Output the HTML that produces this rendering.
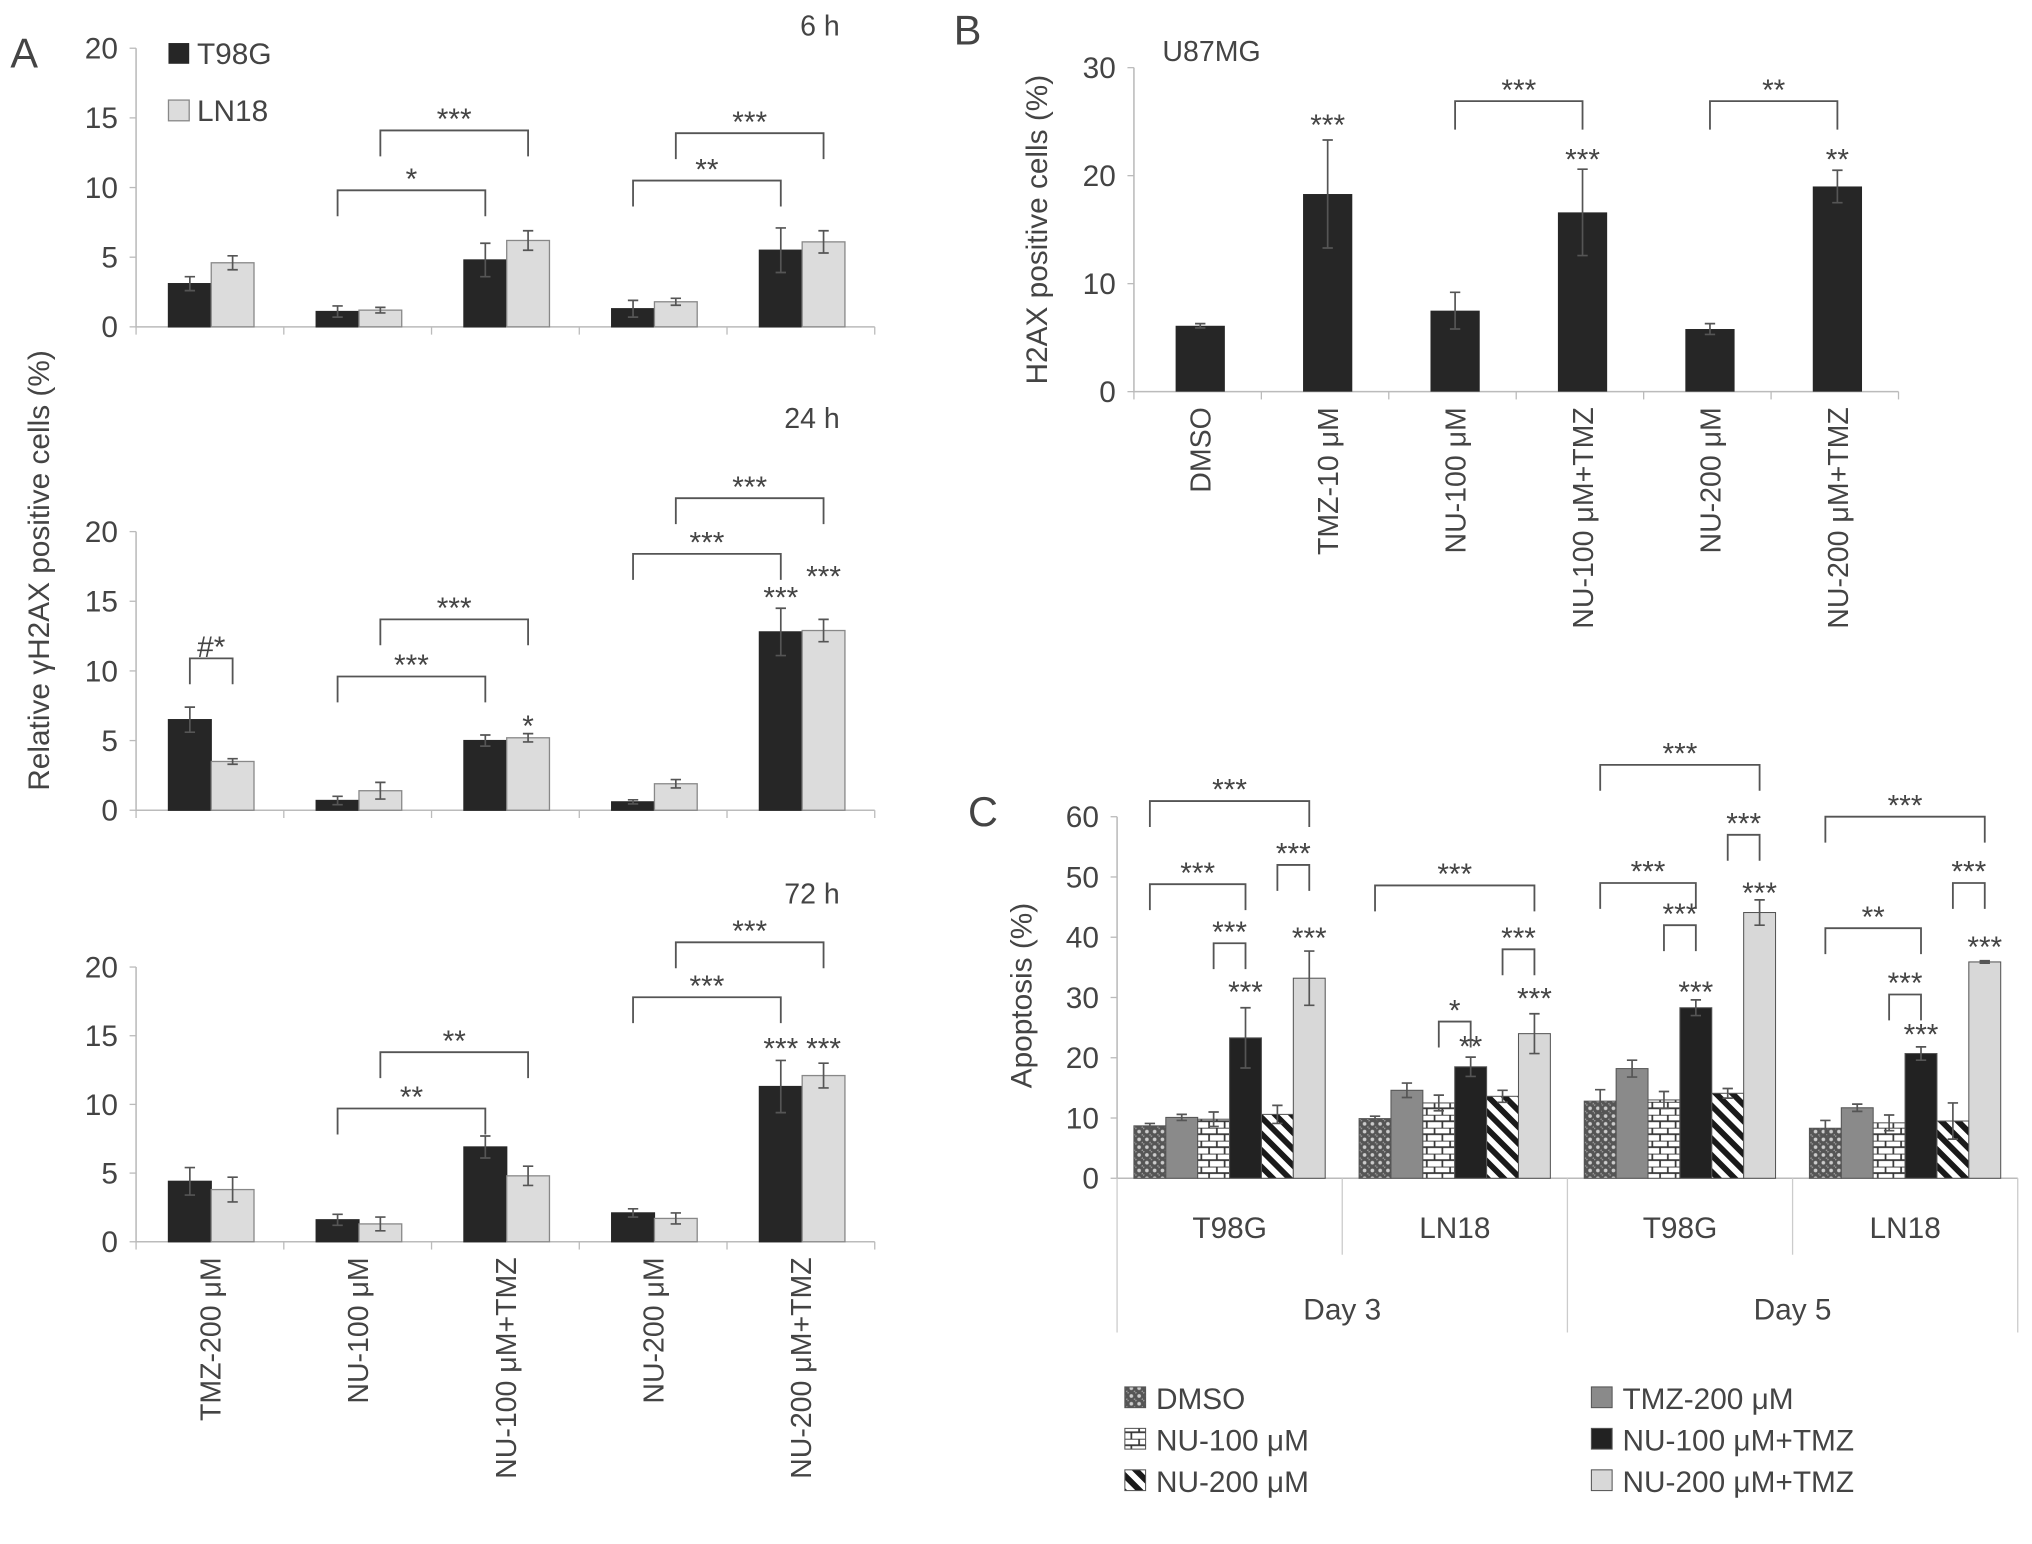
<!DOCTYPE html>
<html><head><meta charset="utf-8"><style>
html,body{margin:0;padding:0;background:#fff}
svg{display:block}
text{font-family:"Liberation Sans",sans-serif;fill:#444}
</style></head><body>
<svg id="fig" xmlns="http://www.w3.org/2000/svg" width="2032" height="1544" viewBox="0 0 1568 1191">
<defs>
<pattern id="pDots" width="6" height="6" patternUnits="userSpaceOnUse"><rect width="6" height="6" fill="#555"/><circle cx="3" cy="3" r="1.4" fill="#ccc"/><circle cx="0" cy="0" r="1.2" fill="#999"/><circle cx="6" cy="6" r="1.2" fill="#999"/></pattern>
<pattern id="pBrick" width="12" height="10" patternUnits="userSpaceOnUse"><rect width="12" height="10" fill="#fff"/><path d="M0 0H12M0 5H12M3 0V5M9 5V10" stroke="#333" stroke-width="1.3"/></pattern>
<pattern id="pStripe" width="9" height="9" patternUnits="userSpaceOnUse" patternTransform="rotate(45)"><rect width="9" height="9" fill="#fff"/><rect width="9" height="4.5" fill="#1a1a1a"/></pattern>
</defs>
</svg>
<script>
// ---------- Panel A data ----------
const aCategories = ["TMZ-200 μM","NU-100 μM","NU-100 μM+TMZ","NU-200 μM","NU-200 μM+TMZ"];
const aTicks = [0,5,10,15,20];
const a6T98G = [3.1,1.1,4.8,1.3,5.5];
const a6LN18 = [4.6,1.2,6.2,1.8,6.1];
const a6T98GErr = [0.5,0.4,1.2,0.6,1.6];
const a6LN18Err = [0.5,0.2,0.7,0.25,0.8];
const a24T98G = [6.5,0.7,5.0,0.6,12.8];
const a24LN18 = [3.5,1.4,5.2,1.9,12.9];
const a24T98GErr = [0.9,0.3,0.4,0.15,1.7];
const a24LN18Err = [0.2,0.6,0.3,0.3,0.8];
const a72T98G = [4.4,1.6,6.9,2.1,11.3];
const a72LN18 = [3.8,1.3,4.8,1.7,12.1];
const a72T98GErr = [1.0,0.4,0.8,0.3,1.9];
const a72LN18Err = [0.9,0.5,0.7,0.4,0.9];
// brackets: [cat1, series1, cat2, series2, value, label]
const a6Brackets = [[1,0,2,0,9.8,"*"],[1,1,2,1,14.1,"***"],[3,0,4,0,10.5,"**"],[3,1,4,1,13.9,"***"]];
const a24Brackets = [[0,0,0,1,10.9,"#*"],[1,0,2,0,9.6,"***"],[1,1,2,1,13.7,"***"],[3,0,4,0,18.4,"***"],[3,1,4,1,22.4,"***"]];
const a72Brackets = [[1,0,2,0,9.7,"**"],[1,1,2,1,13.8,"**"],[3,0,4,0,17.8,"***"],[3,1,4,1,21.8,"***"]];
// stars over bars: [cat, series, value, label]
const a24Stars = [[4,0,15.1,"***"],[4,1,16.6,"***"],[2,1,5.9,"*"]];
const a72Stars = [[4,0,13.9,"***"],[4,1,13.9,"***"]];

// ---------- Panel B data ----------
const bCategories = ["DMSO","TMZ-10 μM","NU-100 μM","NU-100 μM+TMZ","NU-200 μM","NU-200 μM+TMZ"];
const bTicks = [0,10,20,30];
const bValues = [6.1,18.3,7.5,16.6,5.8,19.0];
const bErrors = [0.2,5.0,1.7,4.0,0.5,1.5];
const bBrackets = [[2,3,26.9,"***"],[4,5,26.9,"**"]];
const bStars = [[1,24.5,"***"],[3,21.3,"***"],[5,21.3,"**"]];

// ---------- Panel C data ----------
const cGroups = ["T98G","LN18","T98G","LN18"];
const cDays = ["Day 3","Day 5"];
const cSeries = ["DMSO","TMZ-200 μM","NU-100 μM","NU-100 μM+TMZ","NU-200 μM","NU-200 μM+TMZ"];
const cTicks = [0,10,20,30,40,50,60];
const cDMSO = [8.7,9.9,12.8,8.3];
const cTMZ200 = [10.1,14.6,18.2,11.7];
const cNU100 = [9.8,12.5,13.0,9.2];
const cNU100TMZ = [23.3,18.5,28.3,20.7];
const cNU200 = [10.6,13.6,14.1,9.5];
const cNU200TMZ = [33.2,24.0,44.1,35.9];
const cDMSOErr = [0.4,0.4,1.9,1.3];
const cTMZ200Err = [0.5,1.2,1.4,0.6];
const cNU100Err = [1.2,1.3,1.4,1.3];
const cNU100TMZErr = [5.0,1.6,1.3,1.1];
const cNU200Err = [1.5,1.0,0.8,3.0];
const cNU200TMZErr = [4.5,3.3,2.1,0.2];
// brackets: [group, bar1, bar2, value, label]
const cBrackets = [[0,0,5,62.6,"***"],[0,0,3,48.8,"***"],[0,4,5,52,"***"],[0,2,3,39,"***"],
 [1,0,5,48.6,"***"],[1,2,3,26,"*"],[1,4,5,38,"***"],
 [2,0,5,68.6,"***"],[2,0,3,49,"***"],[2,4,5,57,"***"],[2,2,3,42,"***"],
 [3,0,5,60,"***"],[3,0,3,41.5,"**"],[3,2,3,30.5,"***"],[3,4,5,49,"***"]];
// stars over bars: [group, bar, value, label]
const cStars = [[0,3,30.5,"***"],[0,5,39.5,"***"],[1,3,21.5,"**"],[1,5,29.5,"***"],
 [2,3,30.5,"***"],[2,5,47,"***"],[3,3,23.5,"***"],[3,5,38,"***"]];

const NS="http://www.w3.org/2000/svg";
const svg=document.getElementById('fig');
const SFS=23;
function mk(tag,attrs,parent){const e=document.createElementNS(NS,tag);for(const k in attrs)e.setAttribute(k,attrs[k]);(parent||svg).appendChild(e);return e;}
function txt(s,attrs,parent){const e=mk('text',attrs,parent);e.textContent=s;return e;}
function errBar(g,x,yTop,yBot,cw){
  const p=mk('path',{d:`M${x} ${yTop}V${yBot}M${x-cw} ${yTop}H${x+cw}M${x-cw} ${yBot}H${x+cw}`,stroke:'#555','stroke-width':1.3,fill:'none'},g);
  
  
}
function bracket(g,x1,x2,y,leg,label){
  const p=mk('path',{d:`M${x1} ${y+leg}V${y}H${x2}V${y+leg}`,stroke:'#555','stroke-width':1.4,fill:'none'},g);
  
  
  const t=txt(label,{x:(x1+x2)/2,y:y-1,'text-anchor':'middle','font-size':SFS},g);
  
  
}

// ---------- Panel A ----------
const AX0=105, AX1=675, CW=114, BW=33, BOFF=25;
function drawA(name,y0,unit,T,L,Te,Le,brs,stars,title,titleY,showX){
  const g=mk('g',{});
  
  
  const ys=v=>y0-v*unit;
  const ax=mk('path',{d:`M${AX0} ${ys(20)}V${y0}H${AX1}`,stroke:'#bbb','stroke-width':1.2,fill:'none'},g);
  
  
  aTicks.forEach(t=>{
    const tk=mk('line',{x1:AX0-5,x2:AX0,y1:ys(t),y2:ys(t),stroke:'#bbb'},g);
    
    
    const tl=txt(String(t),{x:AX0-14,y:ys(t)+8,'text-anchor':'end','font-size':23},g);
    
    
  });
  for(let i=0;i<=aCategories.length;i++){
    const d=mk('line',{x1:AX0+i*CW,x2:AX0+i*CW,y1:y0,y2:y0+6,stroke:'#bbb'},g);
    
    
  }
  const bx=(c,s)=>AX0+c*CW+BOFF+s*BW;
  aCategories.forEach((c,i)=>{
    [[T,Te,'#262626','#262626'],[L,Le,'#dcdcdc','#888']].forEach((sr,s)=>{
      const v=sr[0][i],e=sr[1][i];
      const r=mk('rect',{x:bx(i,s),y:ys(v),width:BW,height:v*unit,fill:sr[2],stroke:sr[3],'stroke-width':1},g);
      
      
      errBar(g,bx(i,s)+BW/2,ys(v+e),ys(Math.max(v-e,0)),4);
    });
  });
  brs.forEach(b=>bracket(g,bx(b[0],b[1])+BW/2,bx(b[2],b[3])+BW/2,ys(b[4]),20,b[5]));
  stars.forEach(s=>{
    const t=txt(s[3],{x:bx(s[0],s[1])+BW/2,y:ys(s[2])+6,'text-anchor':'middle','font-size':SFS},g);
    
    
  });
  const tt=txt(title,{x:648,y:titleY,'text-anchor':'end','font-size':22},g);
  
  
  if(showX){
    aCategories.forEach((c,i)=>{
      const cx=AX0+i*CW+CW/2+8;
      const t=txt(c,{x:0,y:0,'text-anchor':'end','font-size':22,transform:`translate(${cx},${y0+12}) rotate(-90)`},g);
      
      
    });
  }
}
drawA('panel-a-6h',252,10.75,a6T98G,a6LN18,a6T98GErr,a6LN18Err,a6Brackets,[],'6 h',27,false);
drawA('panel-a-24h',625,10.75,a24T98G,a24LN18,a24T98GErr,a24LN18Err,a24Brackets,a24Stars,'24 h',330,false);
drawA('panel-a-72h',958,10.6,a72T98G,a72LN18,a72T98GErr,a72LN18Err,a72Brackets,a72Stars,'72 h',697,true);
let t;
t=txt('A',{x:8,y:52,'font-size':32});


t=txt('Relative γH2AX positive cells (%)',{x:0,y:0,'text-anchor':'middle','font-size':23,transform:'translate(38,440) rotate(-90)'});


let r;
r=mk('rect',{x:130,y:33,width:16,height:16,fill:'#262626'});


t=txt('T98G',{x:152,y:49,'font-size':23});


r=mk('rect',{x:130,y:77,width:16,height:16,fill:'#dcdcdc',stroke:'#888'});


t=txt('LN18',{x:152,y:93,'font-size':23});



// ---------- Panel B ----------
(function(){
  const g=mk('g',{});
  
  
  const X0=875,X1=1465,Y0=302,unit=(302-52)/30,CWB=(X1-X0)/6,BWB=38;
  const ys=v=>Y0-v*unit;
  const ax=mk('path',{d:`M${X0} ${ys(30)}V${Y0}H${X1}`,stroke:'#bbb','stroke-width':1.2,fill:'none'},g);
  
  
  bTicks.forEach(v=>{
    const tk=mk('line',{x1:X0-5,x2:X0,y1:ys(v),y2:ys(v),stroke:'#bbb'},g);
    
    
    const tl=txt(String(v),{x:X0-14,y:ys(v)+8,'text-anchor':'end','font-size':23},g);
    
    
  });
  for(let i=0;i<=6;i++){
    const d=mk('line',{x1:X0+i*CWB,x2:X0+i*CWB,y1:Y0,y2:Y0+6,stroke:'#bbb'},g);
    
    
  }
  const cx=i=>X0+i*CWB+CWB/2+2;
  bCategories.forEach((c,i)=>{
    const v=bValues[i],e=bErrors[i];
    const r=mk('rect',{x:cx(i)-BWB/2,y:ys(v),width:BWB,height:v*unit,fill:'#262626'},g);
    
    
    errBar(g,cx(i),ys(v+e),ys(Math.max(v-e,0)),4);
    const tl=txt(c,{x:0,y:0,'text-anchor':'end','font-size':22,transform:`translate(${cx(i)+8},${Y0+12}) rotate(-90)`},g);
    
    
  });
  bBrackets.forEach(b=>bracket(g,cx(b[0]),cx(b[1]),ys(b[2]),22,b[3]));
  bStars.forEach(s=>{
    const tl=txt(s[2],{x:cx(s[0]),y:ys(s[1])+6,'text-anchor':'middle','font-size':SFS},g);
    
    
  });
  let tt=txt('U87MG',{x:897,y:47,'font-size':22},g);
  
  
  tt=txt('B',{x:736,y:34,'font-size':32},g);
  
  
  tt=txt('H2AX positive cells (%)',{x:0,y:0,'text-anchor':'middle','font-size':23,transform:'translate(808,177) rotate(-90)'},g);
  
  
})();

// ---------- Panel C ----------
(function(){
  const g=mk('g',{});
  
  
  const X0=862,X1=1557,Y0=909,unit=(909-630)/60,GW=(X1-X0)/4,BWC=24.6,OFF=13;
  const ys=v=>Y0-v*unit;
  const series=[[cDMSO,cDMSOErr,'url(#pDots)','bar-dmso'],[cTMZ200,cTMZ200Err,'#8a8a8a','bar-tmz-200'],
    [cNU100,cNU100Err,'url(#pBrick)','bar-nu-100'],[cNU100TMZ,cNU100TMZErr,'#222','bar-nu-100-tmz'],
    [cNU200,cNU200Err,'url(#pStripe)','bar-nu-200'],[cNU200TMZ,cNU200TMZErr,'#d8d8d8','bar-nu-200-tmz']];
  const ax=mk('path',{d:`M${X0} ${ys(60)}V${Y0}H${X1}`,stroke:'#bbb','stroke-width':1.2,fill:'none'},g);
  
  
  cTicks.forEach(v=>{
    const tk=mk('line',{x1:X0-5,x2:X0,y1:ys(v),y2:ys(v),stroke:'#bbb'},g);
    
    
    const tl=txt(String(v),{x:X0-14,y:ys(v)+8,'text-anchor':'end','font-size':23},g);
    
    
  });
  for(let i=0;i<=4;i++){
    const long=(i%2===0);
    const d=mk('line',{x1:X0+i*GW,x2:X0+i*GW,y1:Y0,y2:long?1028:968,stroke:'#ccc'},g);
    
    
  }
  const bx=(gi,s)=>X0+gi*GW+OFF+s*BWC;
  cGroups.forEach((gn,gi)=>{
    series.forEach((sr,s)=>{
      const v=sr[0][gi],e=sr[1][gi];
      const r=mk('rect',{x:bx(gi,s),y:ys(v),width:BWC,height:v*unit,fill:sr[2],stroke:'#555','stroke-width':0.8},g);
      
      
      errBar(g,bx(gi,s)+BWC/2,ys(v+e),ys(Math.max(v-e,0)),4);
    });
    const tl=txt(gn,{x:X0+gi*GW+GW/2,y:955,'text-anchor':'middle','font-size':23},g);
    
    
  });
  cDays.forEach((d,i)=>{
    const tl=txt(d,{x:X0+(2*i+1)*GW,y:1018,'text-anchor':'middle','font-size':23},g);
    
    
  });
  cBrackets.forEach(b=>bracket(g,bx(b[0],b[1])+BWC/2,bx(b[0],b[2])+BWC/2,ys(b[3]),20,b[4]));
  cStars.forEach(s=>{
    const tl=txt(s[3],{x:bx(s[0],s[1])+BWC/2,y:ys(s[2])+6,'text-anchor':'middle','font-size':SFS},g);
    
    
  });
  let tt=txt('C',{x:747,y:637,'font-size':32},g);
  
  
  tt=txt('Apoptosis (%)',{x:0,y:0,'text-anchor':'middle','font-size':23,transform:'translate(796,768) rotate(-90)'},g);
  
  
  const legPos=[[868,1085],[1228,1085],[868,1117],[1228,1117],[868,1149],[1228,1149]];
  const legOrder=[0,1,2,3,4,5];
  legOrder.forEach((s,i)=>{
    const p=legPos[i];
    const sw=mk('rect',{x:p[0],y:p[1]-15,width:16,height:16,fill:series[s][2],stroke:'#555','stroke-width':0.8},g);
    
    
    const lt=txt(cSeries[s],{x:p[0]+24,y:p[1]+2,'font-size':23},g);
    
    
  });
})();
</script>
</body></html>
